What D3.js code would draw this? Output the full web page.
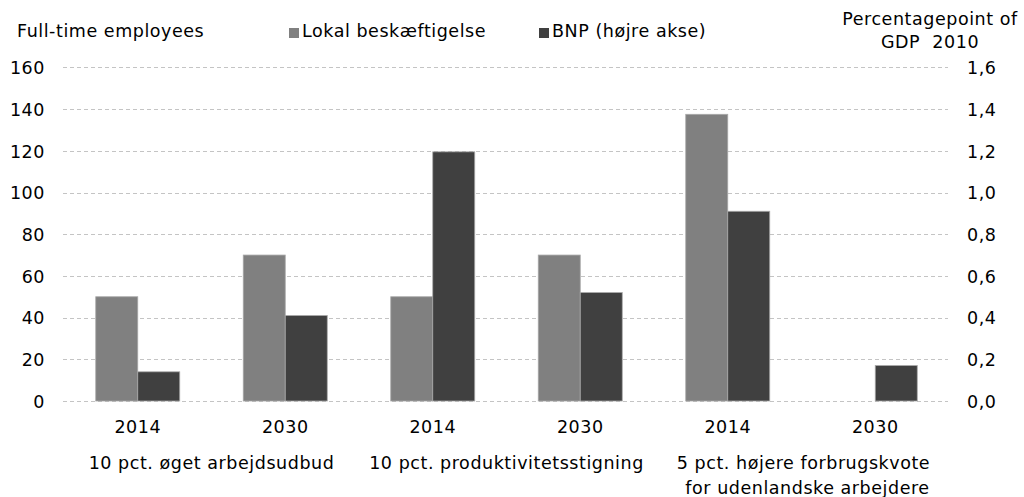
<!DOCTYPE html>
<html><head><meta charset="utf-8">
<script src="https://cdn.jsdelivr.net/npm/d3@7"></script>
<style>
html,body{margin:0;padding:0;background:#fff;}
svg text{font-family:"DejaVu Sans",Verdana,sans-serif;font-size:17.5px;fill:#000;letter-spacing:0.55px;white-space:pre;}
</style></head><body>
<svg id="chart" width="1024" height="497"></svg>
<script>
const categories = ["2014","2030","2014","2030","2014","2030"];
const groups = [["10 pct. øget arbejdsudbud"],["10 pct. produktivitetsstigning"],["5 pct. højere forbrugskvote","for udenlandske arbejdere"]];
const seriesNames = ["Lokal beskæftigelse","BNP (højre akse)"];
const employment = [50, 70, 50, 70, 137.5, 0];
const gdp = [0.14, 0.41, 1.195, 0.52, 0.91, 0.17];
const leftTicks = [0,20,40,60,80,100,120,140,160];
const rightTicks = [0,0.2,0.4,0.6,0.8,1.0,1.2,1.4,1.6];
const leftTitle = "Full-time employees";
const rightTitle = ["Percentagepoint of","GDP  2010"];

const svg = d3.select("#chart");
const L = 64, R = 949, T = 67.4, B = 401;
const x0 = d3.scaleBand().domain(d3.range(categories.length)).range([L, R]).padding(0);
const bw = x0.bandwidth();
const barW = 42;
const x1 = d3.scaleBand().domain([0,1]).range([(bw-2*barW)/2, (bw+2*barW)/2]).padding(0);
const yL = d3.scaleLinear().domain([0,160]).range([B, T]);
const yR = d3.scaleLinear().domain([0,1.6]).range([B, T]);
const colors = ["#808080","#404040"];

// gridlines
svg.append("g").selectAll("line").data(leftTicks).join("line")
  .attr("x1", L-1).attr("x2", R-1)
  .attr("y1", d=>Math.round(yL(d))+0.5).attr("y2", d=>Math.round(yL(d))+0.5)
  .attr("stroke","#c4c4c4").attr("stroke-width",1).attr("stroke-dasharray","4,3");

// bars
const vals = [employment, gdp];
const scales = [yL, yR];
vals.forEach((arr, s) => {
  svg.append("g").selectAll("rect").data(arr).join("rect")
    .attr("x", (d,i)=>x0(i)+x1(s))
    .attr("width", x1.bandwidth())
    .attr("y", d=>scales[s](d))
    .attr("height", d=>B - scales[s](d))
    .attr("fill", colors[s])
    .attr("stroke", d=> d>0 ? "#a8a8a8" : "none").attr("stroke-width",0.8);
});

// left axis labels
const axL = d3.axisLeft(yL).tickValues(leftTicks).tickSize(0).tickPadding(0).tickFormat(d3.format("d"));
const gL = svg.append("g").attr("transform","translate(45,0)").call(axL);
gL.select(".domain").remove();
gL.selectAll("text").attr("font-size",null).attr("font-family",null).attr("dy","0.36em");

const fmtR = d => d.toFixed(1).replace(".", ",");
const axR = d3.axisRight(yR).tickValues(rightTicks).tickSize(0).tickPadding(0).tickFormat(fmtR);
const gR = svg.append("g").attr("transform","translate(967,0)").call(axR);
gR.select(".domain").remove();
gR.selectAll("text").attr("font-size",null).attr("font-family",null).attr("dy","0.36em");

// x axis category labels
const axX = d3.axisBottom(x0).tickSize(0).tickPadding(0).tickFormat(i=>categories[i]);
const gX = svg.append("g").attr("transform",`translate(0,${433.3})`).call(axX);
gX.select(".domain").remove();
gX.selectAll("text").attr("font-size",null).attr("font-family",null).attr("dy",null).attr("y",0);

// group labels
const groupCenters = [0,1,2].map(g => (x0(2*g) + x0(2*g+1) + bw)/2);
const groupOffsets = [[0],[0],[2,6]];
groups.forEach((lines, g) => {
  lines.forEach((t, k) => {
    svg.append("text").attr("x", groupCenters[g] + groupOffsets[g][k]).attr("y", 469.3 + k*24.5)
      .attr("text-anchor","middle").text(t);
  });
});

// titles
svg.append("text").attr("x",17).attr("y",37.3).text(leftTitle);
rightTitle.forEach((t,k)=>{
  svg.append("text").attr("x",930).attr("y",24.5 + k*23).attr("text-anchor","middle").text(t);
});

// legend
const legX = [289, 539];
seriesNames.forEach((n, s) => {
  svg.append("rect").attr("x", legX[s]).attr("y", 28).attr("width",10).attr("height",10).attr("fill", colors[s]);
  svg.append("text").attr("x", legX[s]+13).attr("y", 37.3).text(n);
});
</script></body></html>
